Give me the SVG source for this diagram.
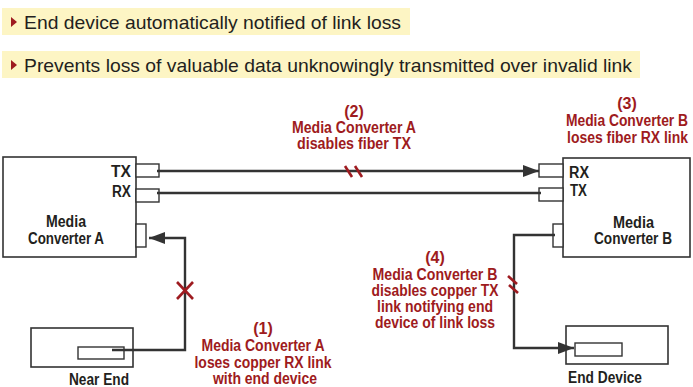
<svg xmlns="http://www.w3.org/2000/svg" width="693" height="387" viewBox="0 0 693 387">
<defs>
<style>
.band{fill:#fdf5c4}
.bul{fill:#9e1b20}
.head{font-family:"Liberation Sans",Arial,sans-serif;font-size:19px;fill:#231f20}
.lbl{font-family:"Liberation Sans",Arial,sans-serif;font-size:16px;font-weight:bold;fill:#231f20}
.red{font-family:"Liberation Sans",Arial,sans-serif;font-size:16px;font-weight:bold;fill:#9e1b20;text-anchor:middle}
.sm{font-size:16px;text-anchor:end}
.box{fill:#ffffff;stroke:#333333;stroke-width:1.6}
.port{fill:#ffffff;stroke:#333333;stroke-width:1.4}
.wire{fill:none;stroke:#333333;stroke-width:2.4}
.hash{fill:none;stroke:#9e1b20;stroke-width:2.6}
</style>
<marker id="arr" viewBox="0 0 16 12" refX="16" refY="6" markerWidth="16" markerHeight="12" markerUnits="userSpaceOnUse" orient="auto">
<path d="M0,0 L16,6 L0,12 Z" fill="#333333"/>
</marker>
</defs>
<rect width="693" height="387" fill="#ffffff"/>
<g id="bullets">
<rect class="band" x="2" y="8" width="408" height="27"/>
<path class="bul" d="M11,17 L17,22 L11,27 Z"/>
<text class="head" x="24" y="29" textLength="377" lengthAdjust="spacingAndGlyphs">End device automatically notified of link loss</text>
<rect class="band" x="2" y="51" width="638" height="27"/>
<path class="bul" d="M11,60 L17,65 L11,70 Z"/>
<text class="head" x="24" y="72" textLength="608" lengthAdjust="spacingAndGlyphs">Prevents loss of valuable data unknowingly transmitted over invalid link</text>
</g>
<g id="converter-a">
<rect class="box" x="3" y="157" width="133" height="100"/>
<rect class="port" x="136" y="164" width="23" height="13"/>
<rect class="port" x="136" y="189" width="23" height="13"/>
<rect class="port" x="136" y="224" width="10" height="23"/>
<text class="lbl" x="111" y="177" textLength="20" lengthAdjust="spacingAndGlyphs">TX</text>
<text class="lbl" x="112" y="197" textLength="19" lengthAdjust="spacingAndGlyphs">RX</text>
<text class="lbl" x="46" y="227" textLength="40" lengthAdjust="spacingAndGlyphs">Media</text>
<text class="lbl" x="28" y="244" textLength="76" lengthAdjust="spacingAndGlyphs">Converter A</text>
</g>
<g id="converter-b">
<rect class="box" x="563" y="158" width="127" height="99"/>
<rect class="port" x="539" y="164" width="24" height="13"/>
<rect class="port" x="539" y="188" width="24" height="13"/>
<rect class="port" x="553" y="224" width="10" height="23"/>
<text class="lbl" x="569" y="178" textLength="20" lengthAdjust="spacingAndGlyphs">RX</text>
<text class="lbl" x="570" y="196" textLength="17" lengthAdjust="spacingAndGlyphs">TX</text>
<text class="lbl" x="613" y="228" textLength="41" lengthAdjust="spacingAndGlyphs">Media</text>
<text class="lbl" x="594" y="244" textLength="78" lengthAdjust="spacingAndGlyphs">Converter B</text>
</g>
<g id="near-end">
<rect class="box" x="31" y="328" width="102" height="39"/>
<rect class="port" x="78" y="347" width="46" height="12"/>
<text class="lbl" x="69" y="385" textLength="60" lengthAdjust="spacingAndGlyphs">Near End</text>
</g>
<g id="end-device">
<rect class="box" x="566" y="326" width="102" height="38"/>
<rect class="port" x="575" y="343" width="47" height="13"/>
<text class="lbl" x="568" y="383" textLength="74" lengthAdjust="spacingAndGlyphs">End Device</text>
</g>
<g id="connectors">
<line class="wire" x1="157" y1="171" x2="539" y2="171" marker-end="url(#arr)"/>
<line class="wire" x1="157" y1="193" x2="541" y2="193"/>
<polyline class="wire" points="112,350 185,350 185,238 149,238" marker-end="url(#arr)"/>
<polyline class="wire" points="555,235 514,235 514,348 574,348" marker-end="url(#arr)"/>
<line class="hash" x1="345" y1="166" x2="352" y2="177"/>
<line class="hash" x1="355" y1="166" x2="362" y2="177"/>
<line class="hash" x1="508" y1="276" x2="517" y2="284"/>
<line class="hash" x1="509" y1="285" x2="518" y2="293"/>
<line class="hash" x1="177" y1="282" x2="193" y2="299"/>
<line class="hash" x1="193" y1="282" x2="177" y2="299"/>
</g>
<g id="labels">
<text class="red" x="354" y="117">(2)</text>
<text class="red" x="354" y="133" textLength="124" lengthAdjust="spacingAndGlyphs">Media Converter A</text>
<text class="red" x="354" y="149" textLength="114" lengthAdjust="spacingAndGlyphs">disables fiber TX</text>
<text class="red" x="627" y="109">(3)</text>
<text class="red sm" x="688" y="126" textLength="122" lengthAdjust="spacingAndGlyphs">Media Converter B</text>
<text class="red sm" x="688" y="143" textLength="121" lengthAdjust="spacingAndGlyphs">loses fiber RX link</text>
<text class="red" x="263" y="334">(1)</text>
<text class="red" x="263" y="351" textLength="123" lengthAdjust="spacingAndGlyphs">Media Converter A</text>
<text class="red" x="263" y="368" textLength="137" lengthAdjust="spacingAndGlyphs">loses copper RX link</text>
<text class="red" x="265" y="384" textLength="104" lengthAdjust="spacingAndGlyphs">with end device</text>
<text class="red" x="435" y="263">(4)</text>
<text class="red" x="435" y="280" textLength="125" lengthAdjust="spacingAndGlyphs">Media Converter B</text>
<text class="red" x="435" y="296" textLength="127" lengthAdjust="spacingAndGlyphs">disables copper TX</text>
<text class="red" x="435" y="312" textLength="116" lengthAdjust="spacingAndGlyphs">link notifying end</text>
<text class="red" x="435" y="328" textLength="120" lengthAdjust="spacingAndGlyphs">device of link loss</text>
</g>
</svg>
